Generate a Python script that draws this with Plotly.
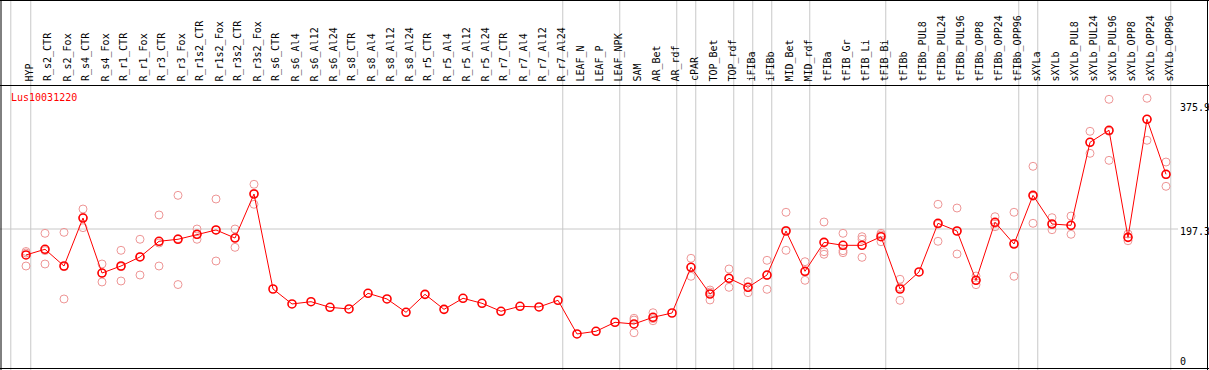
import plotly.graph_objects as go

title = "Lus10031220"

categories = [
    "HYP", "R_s2_CTR", "R_s2_Fox", "R_s4_CTR", "R_s4_Fox", "R_r1_CTR", "R_r1_Fox",
    "R_r3_CTR", "R_r3_Fox", "R_r1s2_CTR", "R_r1s2_Fox", "R_r3s2_CTR", "R_r3s2_Fox",
    "R_s6_CTR", "R_s6_Al4", "R_s6_Al12", "R_s6_Al24", "R_s8_CTR", "R_s8_Al4",
    "R_s8_Al12", "R_s8_Al24", "R_r5_CTR", "R_r5_Al4", "R_r5_Al12", "R_r5_Al24",
    "R_r7_CTR", "R_r7_Al4", "R_r7_Al12", "R_r7_Al24", "LEAF_N", "LEAF_P", "LEAF_NPK",
    "SAM", "AR_Bet", "AR_rdf", "cPAR", "TOP_Bet", "TOP_rdf", "iFIBa", "iFIBb",
    "MID_Bet", "MID_rdf", "tFIBa", "tFIB_Gr", "tFIB_Li", "tFIB_Bi", "tFIBb",
    "tFIBb_PUL8", "tFIBb_PUL24", "tFIBb_PUL96", "tFIBb_OPP8", "tFIBb_OPP24",
    "tFIBb_OPP96", "sXYLa", "sXYLb", "sXYLb_PUL8", "sXYLb_PUL24", "sXYLb_PUL96",
    "sXYLb_OPP8", "sXYLb_OPP24", "sXYLb_OPP96",
]

# group sizes (a grey separator is drawn after each group)
group_sizes = [1, 28, 3, 3, 1, 2, 1, 1, 2, 4, 7, 1, 7]

means = [
    159.9, 168.1, 144.0, 213.1, 133.9, 144.0, 157.0, 179.6, 182.5, 189.7, 195.9, 184.3, 247.7,
    110.9, 89.3, 92.6, 84.5, 82.1, 104.7, 96.5, 77.3, 103.2, 81.6, 97.5, 90.3,
    78.8, 86.0, 85.0, 94.6, 46.1, 50.0, 62.9,
    60.5, 70.1, 76.3, 142.1, 103.7, 126.3, 113.3, 131.0,
    194.4, 136.4, 178.1, 173.8, 173.8, 186.2, 110.9,
    135.4, 205.5, 194.4, 123.4, 207.0, 175.7,
    245.8, 204.5, 202.6, 322.2, 339.5, 185.3, 355.3, 276.1,
]

N = None
rep1 = [
    164.9, 191.1, 192.5, 226.1, 146.9, 166.6, 182.5, 217.5, 245.8, 197.3, 240.5, 197.3, 261.7,
    N, N, N, N, N, N, N, N, N, N, N, N, N, N, N, N, N, N, N,
    68.7, 76.7, N, 155.1, 109.4, 139.7, 121.4, 152.2,
    221.4, 150.2, 207.4, 191.1, 186.2, 191.1, 124.9,
    N, 232.9, 227.5, 129.6, 215.0, 221.4,
    287.6, 213.6, 216.0, 338.0, 384.1, 190.1, 385.6, 293.8,
]
rep2 = [
    162.7, 146.9, 96.5, 199.2, 121.0, 122.4, 131.0, 144.0, 117.3, 182.5, 151.2, 170.9, 232.9,
    N, N, N, N, N, N, N, N, N, N, N, N, N, N, N, N, N, N, N,
    66.2, 65.2, N, 129.2, 95.1, 113.3, 105.6, 110.4,
    166.6, 123.4, 164.6, 166.0, 182.5, 179.0, 94.6,
    N, 179.6, 161.3, 117.1, 200.6, 129.2,
    205.5, 196.3, 189.7, 306.3, 296.2, 180.4, 325.1, 258.8,
]
rep3 = [
    144.0, 166.2, 143.0, 214.1, 133.9, 143.0, 157.4, 177.1, 183.5, 189.1, 195.9, 184.8, 248.6,
    N, N, N, N, N, N, N, N, N, N, N, N, N, N, N, N, N, N, N,
    47.9, 68.2, N, 142.1, 106.6, 125.9, 113.0, 130.5,
    195.3, 135.4, 160.9, 163.2, 156.5, 188.7, 113.2,
    N, 204.1, 194.4, 123.6, 205.2, 176.6,
    244.4, 203.6, 202.2, 322.2, 338.0, 185.3, 355.3, 275.6,
]

scale_labels = [375.9, 197.3, 0]
scale_label_text = ["375.9", "197.3", "0"]

W, H = 1209, 370
FONT = "DejaVu Sans Mono"
RED = "#ff0000"
PINK = "rgb(238,150,150)"
GREY = "#c8c8c8"

idx = list(range(len(categories)))

# axis geometry: category i sits at pixel 26 + 19*i ; value 197.3 at py 229, 375.9 at py 105
px0, step = 26.0, 19.0
x_range = [-px0 / step, (W - px0) / step]
vpp = (375.9 - 197.3) / (229 - 105)
y_top = 197.3 + 229 * vpp
y_bot = 197.3 - (H - 229) * vpp

fig = go.Figure()

for reps in (rep1, rep2, rep3):
    fig.add_trace(go.Scatter(
        x=idx, y=reps, mode="markers",
        marker=dict(symbol="circle-open", size=8, color=PINK, line=dict(width=1, color=PINK)),
        hoverinfo="skip", showlegend=False,
    ))

fig.add_trace(go.Scatter(
    x=idx, y=means, mode="lines+markers",
    line=dict(color=RED, width=1),
    marker=dict(symbol="circle-open", size=8, color=RED, line=dict(width=1.6, color=RED)),
    showlegend=False,
))

shapes = []
# separators
bounds = [-0.8]
acc = 0
for g in group_sizes:
    acc += g
    bounds.append(acc - 1 + 0.25)
for b in bounds:
    shapes.append(dict(type="line", xref="x", yref="paper", x0=b, x1=b, y0=0, y1=1,
                       line=dict(color=GREY, width=1), layer="below"))
# horizontal reference line
shapes.append(dict(type="line", xref="paper", yref="y", x0=0, x1=1178 / W, y0=197.3, y1=197.3,
                   line=dict(color=GREY, width=1), layer="below"))
# black frame lines
blk = dict(color="black", width=1)
shapes.append(dict(type="line", xref="paper", yref="paper", x0=0, x1=1, y0=1 - 0.5 / H, y1=1 - 0.5 / H, line=blk))
shapes.append(dict(type="line", xref="paper", yref="paper", x0=0, x1=1, y0=1 - 85.5 / H, y1=1 - 85.5 / H, line=blk))
shapes.append(dict(type="line", xref="paper", yref="paper", x0=0, x1=1, y0=1 - 368.5 / H, y1=1 - 368.5 / H, line=blk))
shapes.append(dict(type="line", xref="paper", yref="paper", x0=1 / W, x1=1 / W, y0=0, y1=1, line=blk))
shapes.append(dict(type="line", xref="paper", yref="paper", x0=1207.5 / W, x1=1207.5 / W, y0=0, y1=1, line=blk))

annotations = []
for i, c in enumerate(categories):
    annotations.append(dict(x=i, xref="x", y=1 - 83.5 / H, yref="paper", text=c, showarrow=False,
                            textangle=-90, xanchor="center", yanchor="bottom", xshift=3,
                            font=dict(family=FONT, size=10, color="black")))
annotations.append(dict(x=9 / W, xref="paper", y=1 - 97.5 / H, yref="paper", text=title,
                        showarrow=False, xanchor="left", yanchor="middle",
                        font=dict(family=FONT, size=10, color=RED)))
for v, t in zip(scale_labels, scale_label_text):
    shift = 4.3 if v == 0 else -2.7
    annotations.append(dict(x=1178 / W, xref="paper", y=v, yref="y", text=t, showarrow=False,
                            xanchor="left", yanchor="middle", yshift=shift,
                            font=dict(family=FONT, size=10, color="black")))

fig.update_layout(
    width=W, height=H, margin=dict(l=0, r=0, t=0, b=0),
    paper_bgcolor="white", plot_bgcolor="white",
    xaxis=dict(range=x_range, visible=False, showgrid=False, zeroline=False),
    yaxis=dict(range=[y_bot, y_top], visible=False, showgrid=False, zeroline=False),
    shapes=shapes, annotations=annotations,
)

fig.write_html("out.html", config={"displayModeBar": False},
               post_script="document.body.style.margin='0';document.body.style.overflow='hidden';")
